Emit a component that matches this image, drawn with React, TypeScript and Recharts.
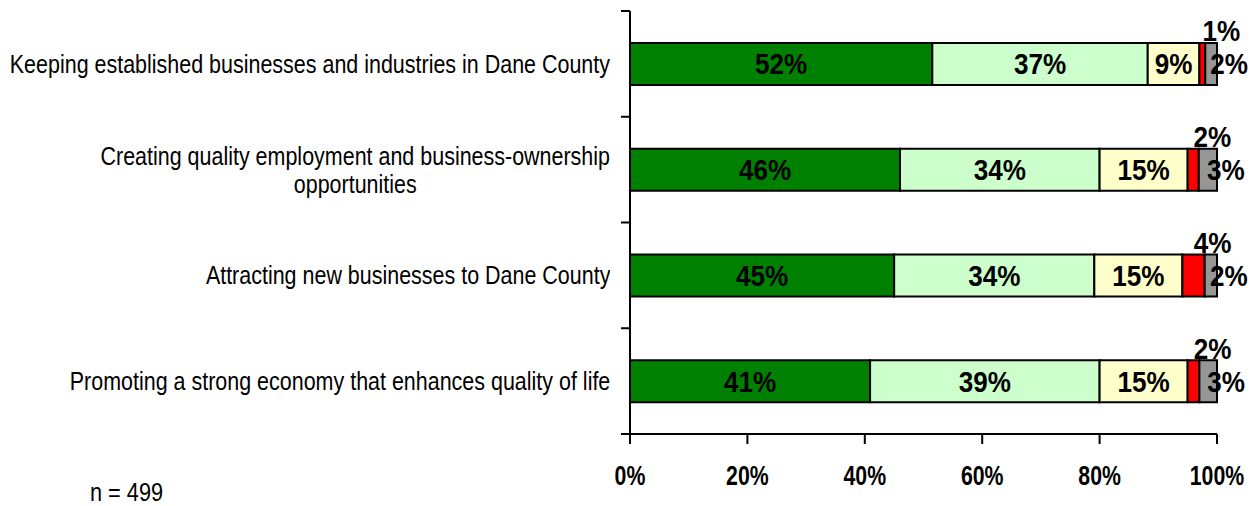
import React from 'react';
import { BarChart, Bar, XAxis, YAxis, LabelList } from 'recharts';

const categories = [
  'Keeping established businesses and industries in Dane County',
  'Creating quality employment and business-ownership\nopportunities',
  'Attracting new businesses to Dane County',
  'Promoting a strong economy that enhances quality of life',
];

const veryImportant = [51.5, 46.0, 45.0, 40.9];
const somewhatImportant = [36.7, 34.0, 34.1, 39.1];
const neutral = [8.8, 15.0, 15.0, 15.0];
const notImportant = [1.0, 1.9, 3.8, 2.0];
const dontKnow = [2.0, 3.1, 2.1, 3.0];

const veryLabels = ['52%', '46%', '45%', '41%'];
const somewhatLabels = ['37%', '34%', '34%', '39%'];
const neutralLabels = ['9%', '15%', '15%', '15%'];
const notLabels = ['1%', '2%', '4%', '2%'];
const dontKnowLabels = ['2%', '3%', '2%', '3%'];

const xTicks = [0, 20, 40, 60, 80, 100];
const xTickLabels = ['0%', '20%', '40%', '60%', '80%', '100%'];

const sampleNote = 'n = 499';

const FONT = "'Liberation Sans', Arial, sans-serif";

const data = categories.map((category, i) => ({
  category,
  very: veryImportant[i],
  somewhat: somewhatImportant[i],
  neutral: neutral[i],
  not: notImportant[i],
  dk: dontKnow[i],
  veryLabel: veryLabels[i],
  somewhatLabel: somewhatLabels[i],
  neutralLabel: neutralLabels[i],
  notLabel: notLabels[i],
  dkLabel: dontKnowLabels[i],
}));

const makeLabel = (dx: number, dy: number) => (props: any) => {
  const { x, y, width, height, value } = props;
  const cx = Number(x) + Number(width) / 2 + dx;
  const cy = Number(y) + Number(height) / 2 + dy;
  return (
    <text
      transform={`translate(${cx},${cy}) scale(0.9,1)`}
      x={0}
      y={0}
      dy="0.36em"
      textAnchor="middle"
      fontFamily={FONT}
      fontWeight="bold"
      fontSize={29}
      fill="#000"
    >
      {value}
    </text>
  );
};

const Y_TICK = 9;
const Y_MARGIN = 11;

const YTick = (props: any) => {
  const { x, y, payload, index } = props;
  const half = payload && payload.offset ? payload.offset : 52.9;
  const axisX = Number(x) + Y_TICK + Y_MARGIN;
  const isLast = index === categories.length - 1;
  const lines = String(payload.value).split('\n');
  return (
    <g>
      <line x1={axisX - Y_TICK} x2={axisX} y1={y - half} y2={y - half} stroke="#000" strokeWidth={2} />
      {isLast && (
        <line x1={axisX - Y_TICK} x2={axisX} y1={y + half} y2={y + half} stroke="#000" strokeWidth={2} />
      )}
      <foreignObject x={Number(x) - 900} y={y - 50} width={900} height={100}>
        <div
          style={{
            width: '100%',
            height: '100%',
            display: 'flex',
            alignItems: 'center',
            justifyContent: 'flex-end',
          }}
        >
          <div
            style={{
              textAlign: 'center',
              fontFamily: FONT,
              fontSize: 26.5,
              lineHeight: '28px',
              color: '#000',
              whiteSpace: 'nowrap',
              transform: 'scaleX(0.81)',
              transformOrigin: 'right center',
            }}
          >
            {lines.map((l, i) => (
              <div key={i}>{l}</div>
            ))}
          </div>
        </div>
      </foreignObject>
    </g>
  );
};

const XTick = (props: any) => {
  const { x, y, payload } = props;
  const label = xTickLabels[xTicks.indexOf(payload.value)];
  return (
    <text
      transform={`translate(${x},${y}) scale(0.76,1)`}
      x={0}
      y={0}
      dy="0.72em"
      textAnchor="middle"
      fontFamily={FONT}
      fontWeight="bold"
      fontSize={28}
      fill="#000"
    >
      {label}
    </text>
  );
};

export default function App() {
  return (
    <div style={{ position: 'absolute', left: 0, top: 0, width: 1256, height: 506, background: '#fff', overflow: 'hidden' }}>
      <BarChart
        width={1256}
        height={506}
        data={data}
        layout="vertical"
        margin={{ top: 11, right: 39, left: 0, bottom: 22 }}
        barSize={42}
      >
        <XAxis
          type="number"
          domain={[0, 100]}
          ticks={xTicks}
          axisLine={{ stroke: '#000', strokeWidth: 2 }}
          tickLine={{ stroke: '#000', strokeWidth: 2 }}
          tickSize={10}
          tickMargin={21}
          height={50}
          tick={<XTick />}
          interval={0}
        />
        <YAxis
          type="category"
          dataKey="category"
          width={630}
          axisLine={{ stroke: '#000', strokeWidth: 2 }}
          tickLine={false}
          tickSize={Y_TICK}
          tickMargin={Y_MARGIN}
          tick={<YTick />}
          interval={0}
        />
        <Bar dataKey="very" stackId="a" fill="#008000" stroke="#000" strokeWidth={2} isAnimationActive={false}>
          <LabelList dataKey="veryLabel" content={makeLabel(0, 0)} />
        </Bar>
        <Bar dataKey="somewhat" stackId="a" fill="#CCFFCC" stroke="#000" strokeWidth={2} isAnimationActive={false}>
          <LabelList dataKey="somewhatLabel" content={makeLabel(0, 0)} />
        </Bar>
        <Bar dataKey="neutral" stackId="a" fill="#FFFFCC" stroke="#000" strokeWidth={2} isAnimationActive={false}>
          <LabelList dataKey="neutralLabel" content={makeLabel(0, 0)} />
        </Bar>
        <Bar dataKey="not" stackId="a" fill="#FF0000" stroke="#000" strokeWidth={2} isAnimationActive={false}>
          <LabelList dataKey="notLabel" content={makeLabel(19, -33)} />
        </Bar>
        <Bar dataKey="dk" stackId="a" fill="#969696" stroke="#000" strokeWidth={2} isAnimationActive={false}>
          <LabelList dataKey="dkLabel" content={makeLabel(18, 0)} />
        </Bar>
      </BarChart>
      <div
        style={{
          position: 'absolute',
          left: 90,
          top: 477,
          fontFamily: FONT,
          fontSize: 26.5,
          lineHeight: '30px',
          color: '#000',
          whiteSpace: 'nowrap',
          transform: 'scaleX(0.82)',
          transformOrigin: 'left center',
        }}
      >
        {sampleNote}
      </div>
    </div>
  );
}
